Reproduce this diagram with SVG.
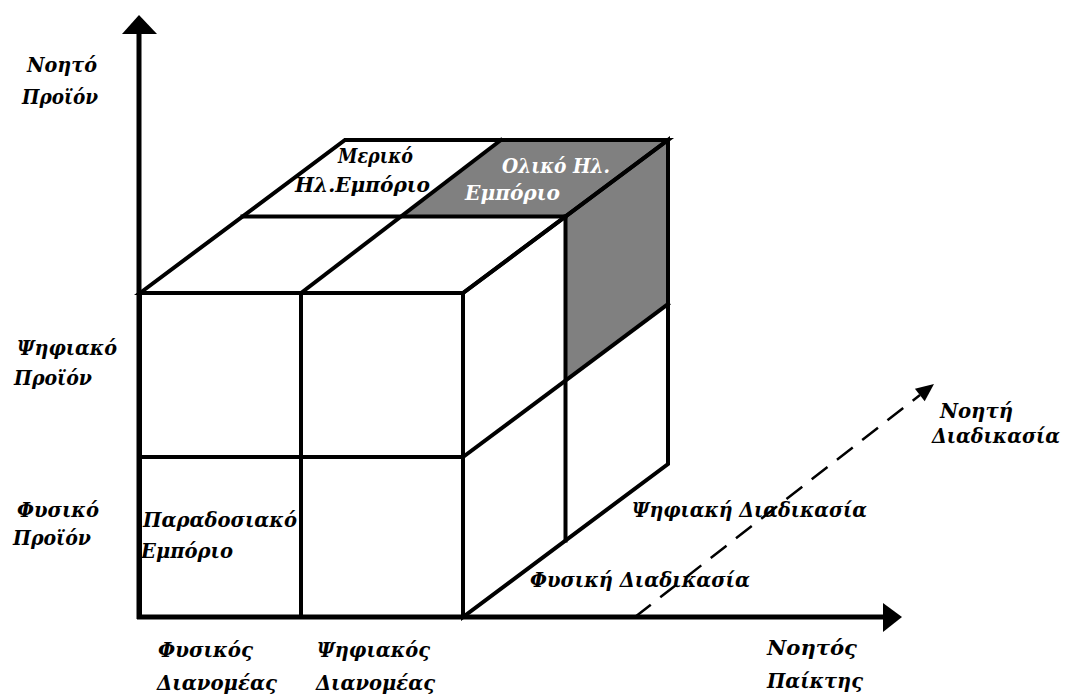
<svg xmlns="http://www.w3.org/2000/svg" width="1066" height="695" viewBox="0 0 1066 695">
<style>
.t{font-family:"DejaVu Serif","Liberation Serif",serif;font-style:italic;font-weight:bold;font-size:20px;fill:#000}
.w{fill:#fff}
.e{fill:none;stroke:#000;stroke-width:4;stroke-linejoin:miter;stroke-linecap:square}
.ax{fill:none;stroke:#000;stroke-width:5}
.g{fill:#808080;stroke:none}
</style>
<rect width="1066" height="695" fill="#fff"/>
<g id="cube">
<polygon class="g" points="401,216.5 565.5,216.5 668,140 501,140"/>
<polygon class="g" points="565.5,216.5 668,140 668,304 565.5,380.5"/>
<rect class="e" x="140" y="293" width="323" height="324"/>
<line class="e" x1="301" y1="293" x2="301" y2="617"/>
<line class="e" x1="140" y1="457" x2="463" y2="457"/>
<polygon class="e" points="140,293 345,140 668,140 463,293"/>
<line class="e" x1="242.5" y1="216.5" x2="565.5" y2="216.5"/>
<line class="e" x1="301" y1="293" x2="501" y2="140"/>
<polygon class="e" points="463,293 668,140 668,464 463,617"/>
<line class="e" x1="565.5" y1="216.5" x2="565.5" y2="540.5"/>
<line class="e" x1="463" y1="457" x2="668" y2="304"/>
</g>
<g id="axes">
<line class="ax" x1="139" y1="619" x2="139" y2="32"/>
<polygon points="122,34 157,34 139,15" fill="#000"/>
<line class="ax" x1="137" y1="617" x2="885" y2="617"/>
<polygon points="883,603 883,632 902,617" fill="#000"/>
<line x1="635" y1="617" x2="920" y2="395" stroke="#000" stroke-width="2.5" stroke-dasharray="20,12"/>
<polygon points="934,384 924.7,401.3 914.9,388.7" fill="#000"/>
</g>
<g id="labels">
<text class="t" x="27" y="72" textLength="70" lengthAdjust="spacingAndGlyphs">Νοητό</text>
<text class="t" x="22" y="104" textLength="76" lengthAdjust="spacingAndGlyphs">Προϊόν</text>
<text class="t" x="338" y="163" textLength="75" lengthAdjust="spacingAndGlyphs">Μερικό</text>
<text class="t" x="295" y="192" textLength="135" lengthAdjust="spacingAndGlyphs">Ηλ.Εμπόριο</text>
<text class="t w" x="502" y="173" textLength="108" lengthAdjust="spacingAndGlyphs">Ολικό Ηλ.</text>
<text class="t w" x="465" y="200" textLength="95" lengthAdjust="spacingAndGlyphs">Εμπόριο</text>
<text class="t" x="17" y="355" textLength="100" lengthAdjust="spacingAndGlyphs">Ψηφιακό</text>
<text class="t" x="14" y="385" textLength="78" lengthAdjust="spacingAndGlyphs">Προϊόν</text>
<text class="t" x="17" y="517" textLength="82" lengthAdjust="spacingAndGlyphs">Φυσικό</text>
<text class="t" x="13" y="545" textLength="78" lengthAdjust="spacingAndGlyphs">Προϊόν</text>
<text class="t" x="143" y="527" textLength="154" lengthAdjust="spacingAndGlyphs">Παραδοσιακό</text>
<text class="t" x="141" y="558" textLength="92" lengthAdjust="spacingAndGlyphs">Εμπόριο</text>
<text class="t" x="158" y="657" textLength="95" lengthAdjust="spacingAndGlyphs">Φυσικός</text>
<text class="t" x="157" y="690" textLength="120" lengthAdjust="spacingAndGlyphs">Διανομέας</text>
<text class="t" x="317" y="657" textLength="113" lengthAdjust="spacingAndGlyphs">Ψηφιακός</text>
<text class="t" x="316" y="690" textLength="119" lengthAdjust="spacingAndGlyphs">Διανομέας</text>
<text class="t" x="767" y="655" textLength="90" lengthAdjust="spacingAndGlyphs">Νοητός</text>
<text class="t" x="767" y="688" textLength="96" lengthAdjust="spacingAndGlyphs">Παίκτης</text>
<text class="t" x="940" y="418" textLength="73" lengthAdjust="spacingAndGlyphs">Νοητή</text>
<text class="t" x="932" y="443" textLength="128" lengthAdjust="spacingAndGlyphs">Διαδικασία</text>
<text class="t" x="632" y="517" textLength="235" lengthAdjust="spacingAndGlyphs">Ψηφιακή Διαδικασία</text>
<text class="t" x="530" y="587" textLength="220" lengthAdjust="spacingAndGlyphs">Φυσική Διαδικασία</text>
</g>
</svg>
